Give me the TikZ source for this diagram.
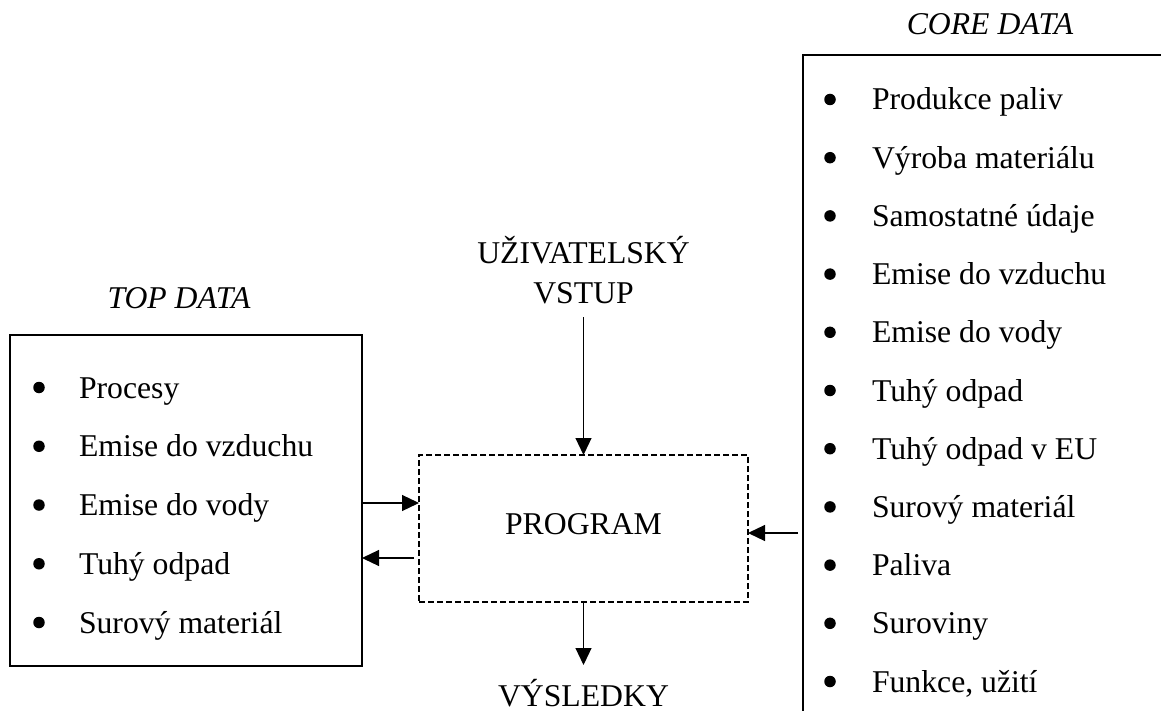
\documentclass[tikz,border=0pt]{standalone}
\usepackage{fontspec}
\setmainfont{Liberation Serif}
\usetikzlibrary{arrows.meta}
\begin{document}
\begin{tikzpicture}[x=1pt,y=-1pt,
  every node/.style={font=\fontsize{31.7}{40}\selectfont, inner sep=0pt, outer sep=0pt},
  frame/.style={draw, line width=2.4pt, rectangle, anchor=north west},
  progbox/.style={draw, line width=2.6pt, dash pattern=on 6pt off 3pt, rectangle, anchor=north west},
  conn/.style={line width=1.2pt, -{Triangle[length=17pt,width=16pt]}},
  bul/.style={circle, fill, minimum size=11.5pt},
  item/.style={anchor=base west},
  txt/.style={anchor=base},
  title/.style={anchor=base, font=\fontsize{31.7}{40}\selectfont\itshape}]
\useasboundingbox (0,0) rectangle (1161,711);
\clip (0,0) rectangle (1161,711);

% boxes
\node[frame, minimum width=352pt, minimum height=331pt] (top) at (10,335) {};
\node[progbox, minimum width=329pt, minimum height=147pt] (prog) at (419,455) {};
\node[frame, minimum width=420pt, minimum height=720pt] (core) at (803,55) {};

% texts
\node[title] (toptitle) at (179,308) {TOP DATA};
\node[title] (coretitle) at (990,35) {CORE DATA};
\node[txt] (user) at (583.5,263) {UŽIVATELSKÝ};
\node[txt] (vstup) at (583.5,303) {VSTUP};
\node[txt] (progl) at (583.5,534) {PROGRAM};
\node[txt] (vysl) at (583.5,706) {VÝSLEDKY};

% left list
\foreach \t [count=\i from 0] in {Procesy, Emise do vzduchu, Emise do vody, Tuhý odpad, Surový materiál} {
  \node[bul] (lb\i) at (39, 387.5+58.75*\i) {};
  \node[item] (lt\i) at (79, 398+58.75*\i) {\t};
}

% right list
\foreach \t [count=\i from 0] in {Produkce paliv, Výroba materiálu, Samostatné údaje, Emise do vzduchu, Emise do vody, Tuhý odpad, Tuhý odpad v EU, Surový materiál, Paliva, Suroviny, {Funkce, užití}} {
  \node[bul] (rb\i) at (830, 99.5+58.2*\i) {};
  \node[item] (rt\i) at (872, 110+58.2*\i) {\t};
}

% connectors
\draw[conn] ([yshift=-14pt]vstup.south) -- (prog.north);
\draw[conn] (prog.south) -- ([yshift=41pt]vysl.base);
\draw[conn] ([yshift=-2.5pt]top.east) -- ([yshift=25.5pt]prog.west);
\draw[conn] ([xshift=-5pt,yshift=-29.5pt]prog.west) -- ([yshift=-57.5pt]top.east);
\draw[conn] ([xshift=-5pt,yshift=-118pt]core.west) -- ([yshift=-4.5pt]prog.east);
\end{tikzpicture}
\end{document}
